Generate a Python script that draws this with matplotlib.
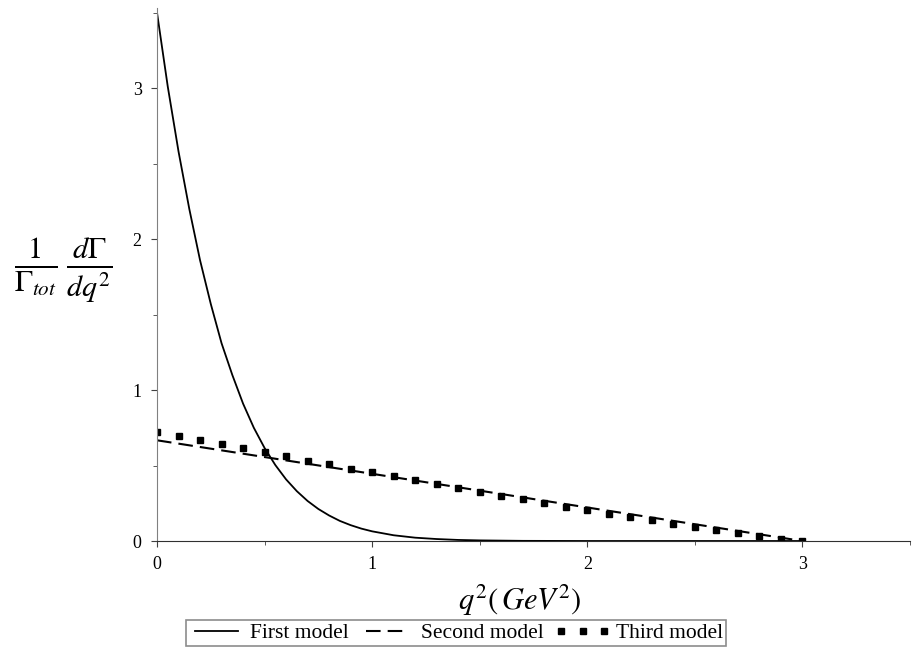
import matplotlib
matplotlib.use("Agg")
import matplotlib.pyplot as plt
from matplotlib.ticker import MultipleLocator

plt.rcParams["font.family"] = ["Liberation Serif", "DejaVu Serif"]
plt.rcParams["mathtext.fontset"] = "stix"

# First model (solid)
q2_first = [0.0, 0.05, 0.1, 0.15, 0.2, 0.25, 0.3, 0.35, 0.4, 0.45, 0.5, 0.55,
            0.6, 0.65, 0.7, 0.75, 0.8, 0.85, 0.9, 0.95, 1.0, 1.1, 1.2, 1.3,
            1.4, 1.5, 1.7, 2.0, 2.5, 3.0]
rate_first = [3.50, 3.01, 2.58, 2.20, 1.86, 1.57, 1.31, 1.10, 0.91, 0.75, 0.616,
              0.503, 0.408, 0.330, 0.265, 0.212, 0.169, 0.133, 0.105, 0.082,
              0.064, 0.038, 0.022, 0.013, 0.007, 0.004, 0.001, 0.0, 0.0, 0.0]

# Second model (dashed) - straight line
q2_second = [0.0, 1.0, 2.0, 3.0]
rate_second = [0.667, 0.445, 0.222, 0.0]

# Third model (square dots)
q2_third = [0.0, 0.1, 0.2, 0.3, 0.4, 0.5, 0.6, 0.7, 0.8, 0.9, 1.0, 1.1, 1.2,
            1.3, 1.4, 1.5, 1.6, 1.7, 1.8, 1.9, 2.0, 2.1, 2.2, 2.3, 2.4, 2.5,
            2.6, 2.7, 2.8, 2.9, 3.0]
rate_third = [0.724, 0.696, 0.669, 0.641, 0.614, 0.587, 0.560, 0.533, 0.507,
              0.480, 0.454, 0.428, 0.402, 0.377, 0.351, 0.326, 0.301, 0.277,
              0.252, 0.228, 0.205, 0.181, 0.158, 0.136, 0.114, 0.092, 0.071,
              0.051, 0.032, 0.014, 0.0]

fig = plt.figure(figsize=(9.13, 6.63), dpi=100)
ax = fig.add_axes([157 / 913, 1 - 541 / 663, (910 - 157) / 913, (541 - 8) / 663])

ax.plot(q2_first, rate_first, color="black", lw=1.3, label="First model")
ax.plot(q2_second, rate_second, color="black", lw=1.5, dashes=(7, 3.4),
        label="Second model")
ax.plot(q2_third, rate_third, color="black", ls="none", marker="s",
        markersize=3.8, label="Third model")

ax.set_xlim(0, 3.5)
ax.set_ylim(0, 3.53)
ax.spines["top"].set_visible(False)
ax.spines["right"].set_visible(False)
ax.spines["left"].set_color("#808080")
ax.spines["bottom"].set_color("#303030")
ax.xaxis.set_major_locator(MultipleLocator(1))
ax.xaxis.set_minor_locator(MultipleLocator(0.5))
ax.yaxis.set_major_locator(MultipleLocator(1))
ax.yaxis.set_minor_locator(MultipleLocator(0.5))
ax.tick_params(which="major", direction="out", length=4, labelsize=13, pad=7,
               colors="#404040", labelcolor="black")
ax.tick_params(which="minor", direction="out", length=3, colors="#404040")

fig.text(0.015, 1 - 270 / 663,
         r"$\frac{1}{\Gamma_{tot}}\,\frac{d\Gamma}{dq^{2}}$",
         fontsize=31, ha="left", va="center")
fig.text(520 / 913, 1 - 600 / 663, r"$q^{2}(\,GeV^{2})$",
         fontsize=22, ha="center", va="center")

leg = fig.legend(loc="center", bbox_to_anchor=(456 / 913, 1 - 633 / 663),
                 ncol=3, fontsize=15.5, frameon=True, fancybox=False,
                 edgecolor="#707070", handlelength=2.6, columnspacing=0.5,
                 handletextpad=0.25, borderpad=0.15, borderaxespad=0,
                 numpoints=3)
leg.get_frame().set_linewidth(1.2)

fig.savefig("out.png", dpi=100)
